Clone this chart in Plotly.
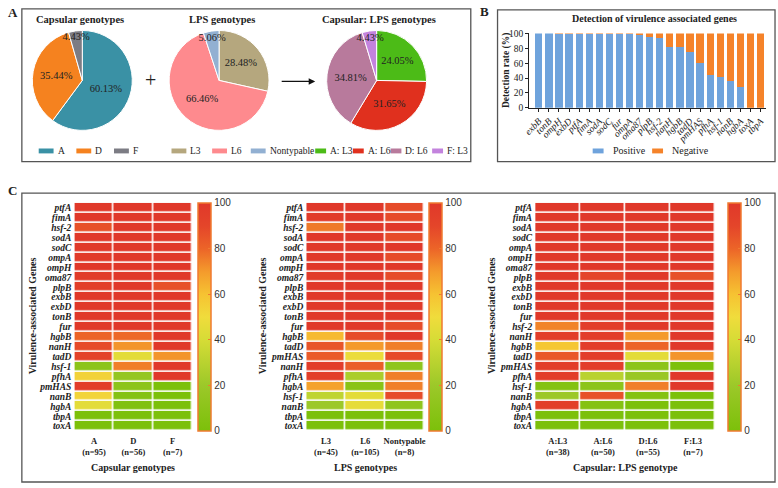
import plotly.graph_objects as go
import numpy as np

W, H = 778, 488
SERIF = "Liberation Serif, Times New Roman, serif"
SANS = "Liberation Sans, Arial, sans-serif"

def X(px):
    return px / W

def Y(py):
    return 1 - py / H

# ---------------- Panel A data ----------------
cap_labels = ["A", "D", "F"]
cap_values = [60.13, 35.44, 4.43]
cap_colors = ["#3a91a5", "#f5821f", "#7c7c84"]

lps_labels = ["L3", "L6", "Nontypable"]
lps_values = [28.48, 66.46, 5.06]
lps_colors = ["#b5a77e", "#fe8a8e", "#92b0d2"]

comb_labels = ["A: L3", "A: L6", "D: L6", "F: L3"]
comb_values = [24.05, 31.65, 34.81, 4.43]
comb_colors = ["#4cbb17", "#e0301e", "#b87a9c", "#c383dd"]

# ---------------- Panel B data ----------------
bar_genes = ["exbB", "tonB", "ompH", "exbD", "ptfA", "fimA", "sodA", "sodC", "fur",
             "ompA", "oma87", "plpB", "hsf-2", "nanH", "hgbB", "tadD", "pmHAS",
             "pfhA", "hsf-1", "nanB", "hgbA", "toxA", "tbpA"]
bar_positive = [100, 100, 99.4, 99.4, 99.4, 99.4, 99.4, 99.4, 99.4, 98.7, 98.1, 95.6,
                93.7, 81.6, 81.6, 74.7, 60.8, 43.7, 41.1, 35.4, 27.8, 0, 0]
bar_negative = [0, 0, 0.6, 0.6, 0.6, 0.6, 0.6, 0.6, 0.6, 1.3, 1.9, 4.4,
                6.3, 18.4, 18.4, 25.3, 39.2, 56.3, 58.9, 64.6, 72.2, 100, 100]

# ---------------- Panel C data ----------------
cap_genes = ["ptfA", "fimA", "hsf-2", "sodA", "sodC", "ompA", "ompH", "oma87", "plpB",
             "exbB", "exbD", "tonB", "fur", "hgbB", "nanH", "tadD", "hsf-1", "pfhA",
             "pmHAS", "nanB", "hgbA", "tbpA", "toxA"]
cap_groups = ["A<br>(n=95)", "D<br>(n=56)", "F<br>(n=7)"]
cap_A = [99, 100, 86, 99, 99, 98, 100, 98, 95, 100, 100, 100, 99, 80, 88, 92, 10, 54, 96, 53, 45, 0, 0]
cap_D = [100, 100, 100, 100, 100, 100, 100, 100, 100, 100, 100, 100, 100, 79, 71, 45, 75, 15, 10, 5, 3, 0, 0]
cap_F = [100, 100, 100, 100, 100, 100, 100, 100, 86, 100, 100, 100, 100, 100, 100, 71, 100, 100, 0, 0, 0, 0, 0]

lps_genes = ["ptfA", "fimA", "hsf-2", "sodA", "sodC", "ompA", "ompH", "oma87", "plpB",
             "exbB", "exbD", "tonB", "fur", "hgbB", "tadD", "pmHAS", "nanH", "pfhA",
             "hgbA", "hsf-1", "nanB", "tbpA", "toxA"]
lps_groups = ["L3<br>(n=45)", "L6<br>(n=105)", "Nontypable<br>(n=8)"]
lps_L3 = [100, 98, 76, 100, 100, 100, 100, 98, 100, 100, 100, 100, 100, 62, 85, 83, 96, 95, 68, 32, 20, 0, 0]
lps_L6 = [100, 100, 100, 100, 100, 100, 100, 100, 100, 100, 100, 100, 100, 88, 70, 48, 82, 25, 8, 45, 46, 0, 0]
lps_NT = [88, 88, 100, 88, 100, 88, 100, 88, 100, 100, 100, 100, 88, 100, 75, 88, 12, 75, 75, 88, 12, 0, 0]

comb_genes = ["ptfA", "fimA", "sodA", "sodC", "ompA", "ompH", "oma87", "plpB", "exbB",
              "exbD", "tonB", "fur", "hsf-2", "nanH", "hgbB", "tadD", "pmHAS", "pfhA",
              "hsf-1", "nanB", "hgbA", "tbpA", "toxA"]
comb_groups = ["A:L3<br>(n=38)", "A:L6<br>(n=50)", "D:L6<br>(n=55)", "F:L3<br>(n=7)"]
comb_AL3 = [100, 100, 100, 100, 100, 100, 100, 100, 100, 100, 100, 100, 74, 96, 58, 84, 96, 96, 5, 20, 95, 0, 0]
comb_AL6 = [100, 100, 100, 100, 100, 100, 100, 90, 100, 100, 100, 100, 96, 96, 96, 96, 96, 30, 10, 86, 5, 0, 0]
comb_DL6 = [100, 100, 100, 100, 100, 100, 100, 100, 100, 100, 100, 100, 100, 70, 80, 45, 10, 18, 75, 5, 0, 0, 0]
comb_FL3 = [100, 100, 100, 100, 100, 100, 100, 86, 100, 100, 100, 100, 100, 100, 100, 71, 0, 100, 100, 0, 0, 0, 0]

colorbar_ticks = [0, 20, 40, 60, 80, 100]

HEAT_SCALE = [[0.0, "#7cc00a"], [0.2, "#9cc829"], [0.4, "#d6dc36"], [0.5, "#f0dc3c"],
              [0.6, "#f6c232"], [0.7, "#f49a2c"], [0.8, "#ec6428"], [0.9, "#e4452a"],
              [1.0, "#e0382a"]]

fig = go.Figure()

# ---------------- Pies ----------------
def pct(v):
    return [f"{x:.2f}%" for x in v]

pie_specs = [
    (cap_labels, cap_values, cap_colors, 77),
    (lps_labels, lps_values, lps_colors, 215),
    (comb_labels, comb_values, comb_colors, 374),
]
R = 51
for labels, values, colors, cx in pie_specs:
    fig.add_trace(go.Pie(
        labels=labels, values=values, text=pct(values), textinfo="text",
        textposition="inside", insidetextorientation="horizontal",
        textfont=dict(family=SERIF, size=10.5, color="#222"),
        marker=dict(colors=colors, line=dict(color="white", width=1)),
        sort=False, direction="clockwise", rotation=0,
        domain=dict(x=[X(cx - R), X(cx + R)], y=[Y(77 + R), Y(77 - R)]),
        showlegend=False, hoverinfo="label+percent",
    ))

# ---------------- Bar chart ----------------
fig.add_trace(go.Bar(x=bar_genes, y=bar_positive, name="Positive",
                     marker=dict(color="#6fa3dc", line=dict(width=0)),
                     xaxis="x", yaxis="y", showlegend=False))
fig.add_trace(go.Bar(x=bar_genes, y=bar_negative, name="Negative",
                     marker=dict(color="#f5832a", line=dict(width=0)),
                     xaxis="x", yaxis="y", showlegend=False))

# ---------------- Heatmaps ----------------
heat_specs = [
    ("x2", "y2", cap_genes, cap_groups, [cap_A, cap_D, cap_F], (69, 188), 194),
    ("x3", "y3", lps_genes, lps_groups, [lps_L3, lps_L6, lps_NT], (303, 422), 427),
    ("x4", "y4", comb_genes, comb_groups, [comb_AL3, comb_AL6, comb_DL6, comb_FL3], (534, 716), 729),
]
HTOP, HBOT = 202, 435
for xa, ya, genes, groups, cols, (x0, x1), cbx in heat_specs:
    z = np.array(cols).T
    fig.add_trace(go.Heatmap(
        z=z, x=groups, y=genes, xaxis=xa, yaxis=ya,
        colorscale=HEAT_SCALE, zmin=0, zmax=100, xgap=1.6, ygap=1.6,
        colorbar=dict(
            x=X(cbx), xanchor="left", xpad=0, ypad=0,
            y=Y((HTOP + HBOT) / 2), yanchor="middle",
            len=(HBOT - HTOP) / H, lenmode="fraction", thickness=13,
            outlinecolor="#f07a30", outlinewidth=1.5,
            tickvals=colorbar_ticks, ticks="inside", ticklen=3, tickcolor="#f07a30",
            tickfont=dict(family=SANS, size=10, color="#333"),
        ),
        hovertemplate="%{y} %{x}: %{z}<extra></extra>",
    ))

layout = dict(
    width=W, height=H, margin=dict(l=0, r=0, t=0, b=0),
    paper_bgcolor="white", plot_bgcolor="white",
    barmode="stack", bargap=0.28,
    uniformtext=dict(minsize=10, mode="show"),
    font=dict(family=SERIF, color="#222"),
    xaxis=dict(domain=[X(528), X(767)], anchor="y", type="category",
               range=[-0.95, 22.55], showline=True, linecolor="#222", linewidth=1.2,
               ticks="outside", ticklen=3, tickcolor="#222", tickangle=-45,
               tickmode="array", tickvals=bar_genes, ticktext=bar_genes,
               tickfont=dict(family=SERIF, size=9.5, style="italic", color="#222"),
               showgrid=False, zeroline=False),
    yaxis=dict(domain=[Y(105), Y(29)], anchor="x", range=[0, 100], dtick=20,
               showline=True, linecolor="#222", linewidth=1.2, ticks="outside",
               ticklen=3, tickcolor="#222", showgrid=False, zeroline=False,
               tickfont=dict(family=SERIF, size=9.5, color="#222")),
)
for i, (xa, ya, genes, groups, cols, (x0, x1), cbx) in enumerate(heat_specs):
    n = xa[1:]
    layout["xaxis" + n] = dict(domain=[X(x0), X(x1)], anchor=ya, showgrid=False,
                               zeroline=False, showline=False, ticks="",
                               ticklabelstandoff=3,
                               tickfont=dict(family=SERIF, size=8.5, weight="bold", color="#222"))
    layout["yaxis" + n] = dict(domain=[Y(HBOT), Y(HTOP)], anchor=xa, autorange="reversed",
                               showgrid=False, zeroline=False, showline=False, ticks="",
                               tickmode="array", tickvals=genes, ticktext=genes,
                               ticklabelstandoff=2,
                               tickfont=dict(family=SERIF, size=9.5, weight="bold",
                                             style="italic", color="#222"))
fig.update_layout(**layout)

# ---------------- Panel frames ----------------
frames = [(16, 4, 469, 160), (496, 5, 776, 160), (16, 192, 776, 487)]
for x0, y0, x1, y1 in frames:
    fig.add_shape(type="rect", xref="paper", yref="paper",
                  x0=X(x0), x1=X(x1), y0=Y(y1), y1=Y(y0),
                  line=dict(color="#555", width=1.3), fillcolor="rgba(0,0,0,0)")

annots = []
def txt(x, y, s, size=10, bold=False, family=SERIF, angle=0, xanchor="center", color="#222"):
    annots.append(dict(xref="paper", yref="paper", x=X(x), y=Y(y), text=s,
                       showarrow=False, xanchor=xanchor, yanchor="middle", textangle=angle,
                       font=dict(family=family, size=size, color=color,
                                 weight="bold" if bold else "normal")))

# panel letters
txt(7, 8, "A", 13, True)
txt(483, 7, "B", 13, True)
txt(7, 189, "C", 13, True)

# pie titles
txt(75, 15, "Capsular genotypes", 10.5, True)
txt(218, 15, "LPS genotypes", 10.5, True)
txt(376, 15, "Capsular: LPS genotypes", 10.5, True)
txt(146, 77, "+", 20)
annots.append(dict(xref="paper", yref="paper", x=X(312), y=Y(78), ax=-35, ay=0,
                   axref="pixel", ayref="pixel", text="", showarrow=True,
                   arrowhead=2, arrowsize=1, arrowwidth=1.3, arrowcolor="#111"))

# custom legends for pies
legend_groups = [
    (cap_labels, cap_colors, [33, 71, 109], 15),
    (lps_labels, lps_colors, [167, 208, 247], 15),
    (comb_labels, comb_colors, [312, 350, 388, 430], 11),
]
LY = 149
for labels, colors, xs, sw in legend_groups:
    for lab, col, xs0 in zip(labels, colors, xs):
        fig.add_shape(type="rect", xref="paper", yref="paper",
                      x0=X(xs0), x1=X(xs0 + sw), y0=Y(LY + 2.5), y1=Y(LY - 2.5),
                      line=dict(width=0), fillcolor=col)
        txt(xs0 + sw + 2, LY, lab, 9.5, xanchor="left")

# bar chart title / legend / axis title
txt(654, 14, "Detection of virulence associated genes", 10, True)
txt(505, 67, "Detection rate (%)", 9.5, True, angle=-90)
for lab, col, xs0 in [("Positive", "#6fa3dc", 592), ("Negative", "#f5832a", 652)]:
    fig.add_shape(type="rect", xref="paper", yref="paper",
                  x0=X(xs0), x1=X(xs0 + 11), y0=Y(LY + 2.5), y1=Y(LY - 2.5),
                  line=dict(width=0), fillcolor=col)
    txt(xs0 + 18, LY, lab, 10, xanchor="left")

# heatmap axis titles
for xt, xlabel_x, xlabel in [(27, 128, "Capsular genotypes"), (259, 363, "LPS genotypes"),
                             (490, 625, "Capsular: LPS genotype")]:
    txt(xt, 317, "Virulence-associated Genes", 10, True, angle=-90)
    txt(xlabel_x, 472, xlabel, 10, True)

fig.update_layout(annotations=annots)
fig.write_html("out.html", config={"displayModeBar": False},
               post_script="document.body.style.margin='0';document.body.style.overflow='hidden';")
